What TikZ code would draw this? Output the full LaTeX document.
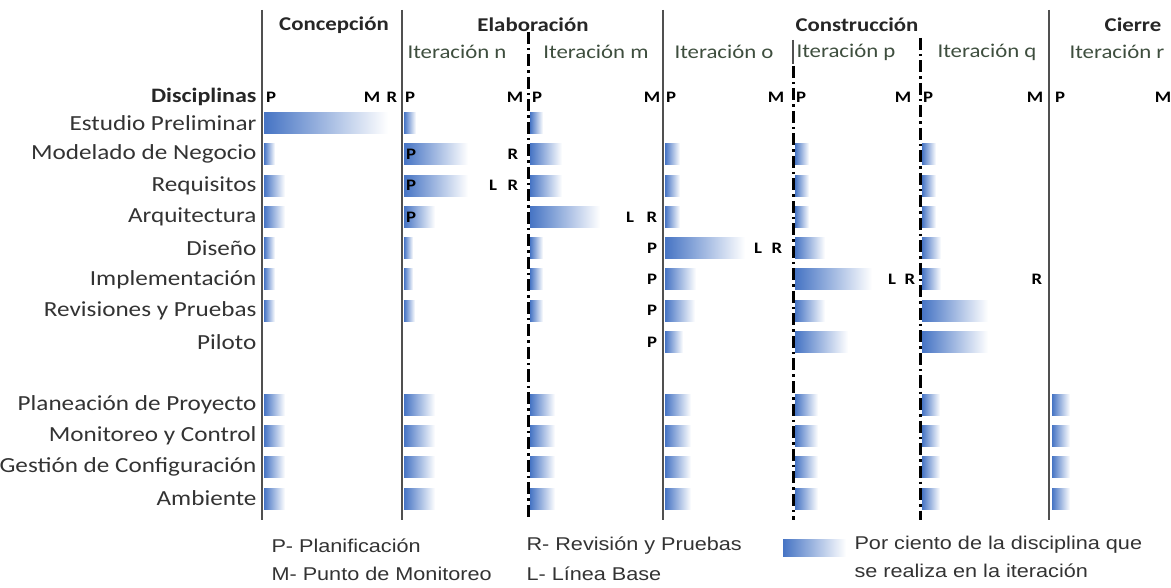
\documentclass[tikz,border=0pt]{standalone}
\usepackage{fontspec}
\setmainfont{Carlito}[FakeStretch=1.17]
\newfontfamily\legfont{Liberation Sans}[FakeStretch=1.17]
\definecolor{barblue}{RGB}{70,116,196}
\definecolor{itgreen}{RGB}{62,78,62}
\definecolor{linegray}{RGB}{80,80,80}
\tikzset{
	phase/.style={font=\fontsize{19.5}{22}\selectfont\bfseries, text=black!85},
	iter/.style={font=\fontsize{19.5}{22}\selectfont, text=itgreen},
	disc/.style={anchor=east, font=\fontsize{21.5}{24}\selectfont, text=black!80},
	letter/.style={font=\fontsize{16}{18}\selectfont\bfseries},
	sep/.style={linegray, line width=1.5pt},
	cut/.style={black, line width=3pt, dash pattern=on 12pt off 4pt on 2.5pt off 4pt},
	bar/.style={left color=barblue, right color=white},
	legend/.style={anchor=west, font=\legfont\fontsize{18.5}{21}\selectfont, text=black!80},
}
\begin{document}
\begin{tikzpicture}[x=1pt,y=-1pt]
			\useasboundingbox (0,0) rectangle (1171,588);
			\draw[sep] (262,10)--(262,520);
			\draw[sep] (402,10)--(402,520);
			\draw[sep] (663,10)--(663,520);
			\draw[sep] (1049,10)--(1049,520);
			\draw[sep] (793,40)--(793,64);
			\draw[cut] (528,32)--(528,520);
			\draw[cut] (793,66)--(793,520);
			\draw[cut] (920,38)--(920,520);
			
			\node[phase] (concep) at (334,25) {Concepción};
			\node[phase] (elab) at (533,25) {Elaboración};
			\node[phase] (constr) at (857,25) {Construcción};
			\node[phase] (cierre) at (1133,25) {Cierre};
			\node[iter] (itn) at (457,52) {Iteración n};
			\node[iter] (itm) at (596,52) {Iteración m};
			\node[iter] (ito) at (724,52) {Iteración o};
			\node[iter] (itp) at (846,52) {Iteración p};
			\node[iter] (itq) at (987,52) {Iteración q};
			\node[iter] (itr) at (1117,52) {Iteración r};
			
			\node[disc, font=\fontsize{20.5}{23}\selectfont\bfseries, text=black!85] (disc) at (260,97) {Disciplinas};
			\foreach \r/\t in {0/Estudio Preliminar,1/Modelado de Negocio,2/Requisitos,3/Arquitectura,4/Diseño,5/Implementación,6/Revisiones y Pruebas,7/Piloto,9/Planeación de Proyecto,10/Monitoreo y Control,11/Gestión de Configuración,12/Ambiente}
				\node[disc] (row\r) at (260,{123+31.3*\r}) {\t};
			
			\foreach \p/\m in {271/372,410/515,537/652,671/776,801/903,928/1035,1060/1163}{
				\node[letter] at (\p,97) {P};
				\node[letter] at (\m,97) {M};
			}
			\node[letter] (rconc) at (392,97) {R};
			
			\foreach \x/\l in {264/{0/124,1/11,2/21,3/21,4/11,5/11,6/11,9/21,10/21,11/21,12/21},
					404/{0/12,1/64,2/64,3/31,4/9,5/9,6/11,9/31,10/31,11/31,12/31},
					530/{0/13,1/32,2/32,3/70,4/13,5/13,6/13,9/25,10/25,11/25,12/25},
					665/{1/15,2/15,3/15,4/80,5/31,6/30,7/18,9/26,10/26,11/26,12/26},
					795/{1/14,2/14,3/14,4/30,5/77,6/30,7/53,9/23,10/23,11/23,12/23},
					922/{1/14,2/14,3/14,4/19,5/19,6/66,7/66,9/18,10/18,11/18,12/18},
					1052/{9/18,10/18,11/18,12/18}}{
				\foreach \r/\w in \l
					\shade[bar] (\x,{123+31.3*\r-10.5}) rectangle ++(\w,21);
			}
			
			\foreach \r in {1,2,3}
				\node[letter] at (411,{123+31.3*\r}) {P};
			\node[letter] at (513,154.3) {R};
			\node[letter] at (493,185.6) {L};
			\node[letter] at (513,185.6) {R};
			\node[letter] at (630,216.9) {L};
			\node[letter] at (652,216.9) {R};
			\foreach \r in {4,5,6,7}
				\node[letter] at (652,{123+31.3*\r}) {P};
			\node[letter] at (758,248.2) {L};
			\node[letter] at (777,248.2) {R};
			\node[letter] at (892,279.5) {L};
			\node[letter] at (910,279.5) {R};
			\node[letter] at (1037,279.5) {R};
			
			\node[legend] (legp) at (268,546) {P- Planificación};
			\node[legend] (legm) at (268,574) {M- Punto de Monitoreo};
			\node[legend] (legr) at (523,546) {R- Revisión y Pruebas};
			\node[legend] (legl) at (523,574) {L- Línea Base};
			\shade[bar] (783,539) rectangle (846,556);
			\node[legend] (legbar) at (851,545) {Por ciento de la disciplina que};
			\node[legend] (legbar2) at (851,571) {se realiza en la iteración};
		\end{tikzpicture}
\end{document}
